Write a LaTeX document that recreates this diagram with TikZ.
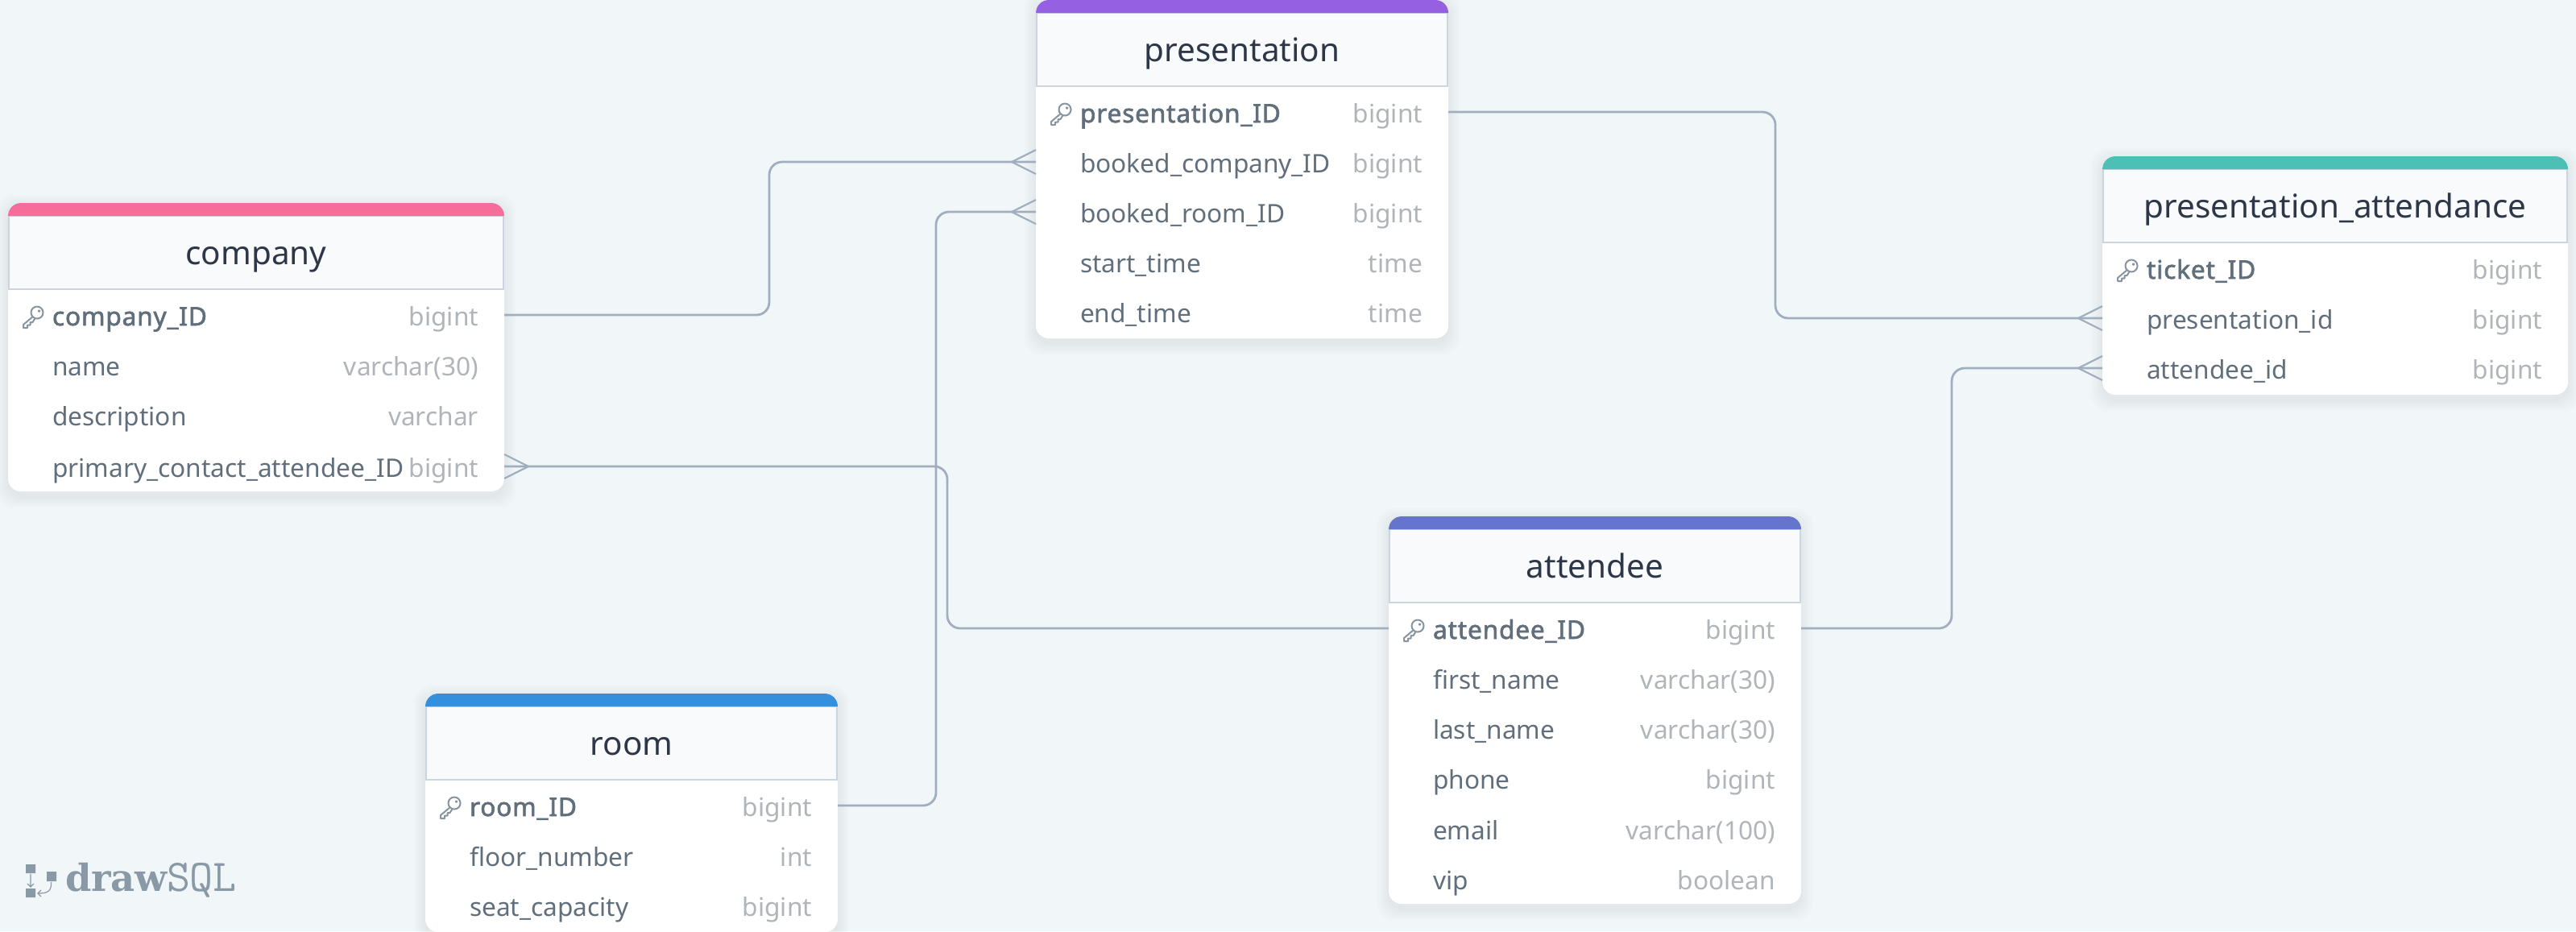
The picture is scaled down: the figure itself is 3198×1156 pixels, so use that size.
\documentclass[tikz,border=0pt]{standalone}
\usepackage{fontspec}
\setmainfont{Noto Sans}
\newfontfamily\pkfont[FakeBold=2,LetterSpace=2.5]{Noto Sans}
\newfontfamily\logoserif{DejaVu Serif}
\usetikzlibrary{calc}
\definecolor{pagebg}{HTML}{F1F6F9}
\definecolor{headfill}{HTML}{F8FAFC}
\definecolor{headline}{HTML}{CBD5E0}
\definecolor{conncol}{HTML}{A0AEC0}
\definecolor{titlecol}{HTML}{2D3748}
\definecolor{namecol}{HTML}{606F7B}
\definecolor{typecol}{HTML}{B0B5BA}
\definecolor{keycol}{HTML}{8795A1}
\definecolor{logocol}{HTML}{8A99A6}
\definecolor{cpink}{HTML}{F66D9B}
\definecolor{cpurple}{HTML}{9561E2}
\definecolor{cteal}{HTML}{4DC0B5}
\definecolor{cindigo}{HTML}{6574CD}
\definecolor{cblue}{HTML}{3490DC}
\tikzset{
  tablebody/.style={fill=white,rounded corners=0.16cm,inner sep=0pt,outer sep=0pt},
  headbox/.style={fill=headfill,draw=headline,line width=0.02cm,inner sep=0pt,outer sep=0pt,
    font=\fontsize{11.5pt}{13pt}\selectfont,text=titlecol,text height=0.29cm,text depth=0cm},
  rowbox/.style={inner sep=0pt,outer sep=0pt,minimum height=0.62cm},
  fname/.style={inner sep=0pt,outer sep=0pt,font=\fontsize{9pt}{10pt}\selectfont,text=namecol},
  ftype/.style={inner sep=0pt,outer sep=0pt,font=\fontsize{9pt}{10pt}\selectfont,text=typecol},
  conn/.style={draw=conncol,line width=0.028cm,rounded corners=0.16cm},
  foot/.style={draw=conncol,line width=0.022cm},
  keyline/.style={draw=keycol,line width=0.02cm,line join=round,line cap=round},
}
% id, left, right, top, bottom, colour, title
\newcommand{\erdtable}[7]{%
  \foreach \gs in {0.14,0.11,0.08,0.05,0.02}{%
    \fill[black,opacity=0.012,rounded corners=0.2cm]
      ($(#2,#4+4)+(-\gs cm,\gs cm)$) rectangle ($(#3,#5+6)+(\gs cm,-\gs cm)$);}
  \node[tablebody,minimum width={(#3-#2)*0.01cm},minimum height={(#5-#4)*0.01cm}]
    (#1) at ({(#2+#3)/2},{(#4+#5)/2}) {};
  \node[headbox,minimum width={(#3-#2-2)*0.01cm},minimum height=0.91cm]
    (#1-head) at ({(#2+#3)/2},#4+61.5) {#7};
  \fill[#6] (#2,#4+16) [rounded corners=0.16cm] -- (#2,#4) -- (#3,#4) [sharp corners] -- (#3,#4+16) -- cycle;
}
% id, left, right, y, name, type
\newcommand{\erdfield}[6]{%
  \node[rowbox,minimum width={(#3-#2)*0.01cm}] (#1) at ({(#2+#3)/2},#4) {};
  \node[fname,anchor=base west] (#1-n) at ([xshift=0.55cm,yshift=-0.13cm]#1.west) {#5};
  \node[ftype,anchor=base east] (#1-t) at ([xshift=-0.32cm,yshift=-0.13cm]#1.east) {#6};
}
% key icon around a row (id)
\newcommand{\erdkey}[1]{%
  \begin{scope}[shift={([xshift=0.30cm,yshift=-0.03cm]#1.west)}]
    \draw[keyline] (6,-6) circle[radius=0.075cm];
    \draw[keyline,fill=keycol] (8.5,-8) circle[radius=0.008cm];
    \draw[keyline] (0.6,-0.8) -- (-11,9) -- (-11,13) -- (-6,13) -- (-6,9.5) -- (-2.5,9.5) -- (-2.5,6) -- (0.5,6) -- (3.6,1);
  \end{scope}}
\begin{document}
\begin{tikzpicture}[x=0.01cm,y=-0.01cm]
\useasboundingbox (0,0) rectangle (3198,1156);
\clip (0,0) rectangle (3198,1156);
\fill[pagebg] (0,0) rectangle (3198,1156);

% tables
\erdtable{company}{10}{626}{252}{610}{cpink}{company}
\erdfield{comp1}{10}{626}{391}{\pkfont company\_ID}{bigint}
\erdfield{comp2}{10}{626}{453}{name}{varchar(30)}
\erdfield{comp3}{10}{626}{515}{description}{varchar}
\erdfield{comp4}{10}{626}{579}{primary\_contact\_attendee\_ID}{bigint}
\erdkey{comp1}

\erdtable{pres}{1286}{1798}{0}{420}{cpurple}{presentation}
\erdfield{pres1}{1286}{1798}{139}{\pkfont presentation\_ID}{bigint}
\erdfield{pres2}{1286}{1798}{201}{booked\_company\_ID}{bigint}
\erdfield{pres3}{1286}{1798}{263}{booked\_room\_ID}{bigint}
\erdfield{pres4}{1286}{1798}{325}{start\_time}{time}
\erdfield{pres5}{1286}{1798}{387}{end\_time}{time}
\erdkey{pres1}

\erdtable{att}{2610}{3188}{194}{490}{cteal}{presentation\_attendance}
\erdfield{att1}{2610}{3188}{333}{\pkfont ticket\_ID}{bigint}
\erdfield{att2}{2610}{3188}{395}{presentation\_id}{bigint}
\erdfield{att3}{2610}{3188}{457}{attendee\_id}{bigint}
\erdkey{att1}

\erdtable{attendee}{1724}{2236}{641}{1122}{cindigo}{attendee}
\erdfield{ae1}{1724}{2236}{780}{\pkfont attendee\_ID}{bigint}
\erdfield{ae2}{1724}{2236}{842}{first\_name}{varchar(30)}
\erdfield{ae3}{1724}{2236}{904}{last\_name}{varchar(30)}
\erdfield{ae4}{1724}{2236}{966}{phone}{bigint}
\erdfield{ae5}{1724}{2236}{1029}{email}{varchar(100)}
\erdfield{ae6}{1724}{2236}{1091}{vip}{boolean}
\erdkey{ae1}

\erdtable{room}{528}{1040}{861}{1157}{cblue}{room}
\erdfield{room1}{528}{1040}{1000}{\pkfont room\_ID}{bigint}
\erdfield{room2}{528}{1040}{1062}{floor\_number}{int}
\erdfield{room3}{528}{1040}{1124}{seat\_capacity}{bigint}
\erdkey{room1}

% connectors
\coordinate (r1) at (955,300);
\coordinate (r2) at (1162,600);
\coordinate (r3) at (2204,250);
\coordinate (r4) at (2423,600);
\coordinate (r5) at (1176,700);
\draw[conn] (comp1.east) -| (r1) |- (pres2.west);
\draw[conn] (room1.east) -| (r2) |- (pres3.west);
\draw[conn] (pres1.east) -| (r3) |- (att2.west);
\draw[conn] (ae1.east) -| (r4) |- (att3.west);
\draw[conn] (comp4.east) -| (r5) |- (ae1.west);
% crow's feet
\foreach \rowid in {pres2,pres3,att2,att3}{
  \draw[foot] ([yshift=0.15cm]\rowid.west) -- ([xshift=-0.3cm]\rowid.west) -- ([yshift=-0.15cm]\rowid.west);
}
\draw[foot] ([yshift=0.15cm]comp4.east) -- ([xshift=0.3cm]comp4.east) -- ([yshift=-0.15cm]comp4.east);

% logo
\fill[logocol] (32,1073) rectangle (44,1084) (32,1103) rectangle (44,1114) (58,1082) rectangle (70,1094);
\draw[logocol,line width=0.012cm] (38,1085) -- (38,1101) (34,1097) -- (38,1101) -- (42,1097);
\draw[logocol,line width=0.012cm] (63.5,1095) .. controls (64,1106) and (60,1109) .. (47,1109);
\draw[logocol,line width=0.012cm] (51,1105) -- (47,1109) -- (51,1113);
\node[inner sep=0pt,outer sep=0pt,anchor=base west,text=logocol] (logoa) at (81,1106)
  {\logoserif\bfseries\fontsize{13.2pt}{14pt}\selectfont draw};
\node[inner sep=0pt,outer sep=0pt,anchor=base west,text=logocol] (logob) at (207,1106)
  {\ttfamily\fontsize{16pt}{17pt}\selectfont SQL};
\end{tikzpicture}
\end{document}
